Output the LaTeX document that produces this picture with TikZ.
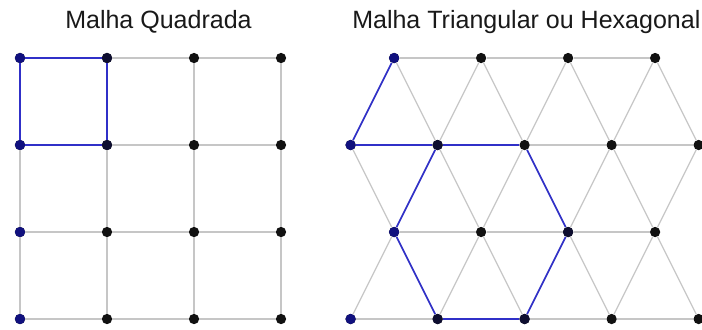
\documentclass[tikz,border=0pt]{standalone}
\usepackage{fontspec}
\setmainfont{Liberation Sans}
\usepackage{xcolor}
\definecolor{malhaGray}{HTML}{C6C6C6}
\definecolor{malhaBlue}{HTML}{3030C8}
\definecolor{malhaNavy}{HTML}{10107E}
\definecolor{malhaDark}{HTML}{0E0E30}
\definecolor{malhaBlack}{HTML}{111111}

\begin{document}
\begin{tikzpicture}[x=2.2cm, y=2.2cm,
    dot/.style={circle, fill=malhaBlack, inner sep=0pt, minimum size=2.6mm},
    bluedot/.style={dot, fill=malhaNavy},
    darkdot/.style={dot, fill=malhaDark},
    grid line/.style={malhaGray, line width=0.9pt},
    path line/.style={malhaBlue, line width=1.2pt},
    title/.style={anchor=base west, inner sep=0pt, font=\fontsize{18}{20}\selectfont, text=black!90}]
    \useasboundingbox (-0.230,-0.115) rectangle (7.839,3.667);
    \node[title] (tq) at (0.517,3.345) {Malha Quadrada};
    \node[title] (tt) at (3.816,3.345) {Malha Triangular ou Hexagonal};
    % square lattice
    \foreach \i in {0,...,3}
      \foreach \j in {0,...,3}
        \node[dot] (q-\i-\j) at (\i,\j) {};
    \foreach \j in {0,...,3} \node[bluedot] at (q-0-\j) {};
    \node[darkdot] at (q-1-2) {};
    \node[darkdot] at (q-1-3) {};
    \foreach \i in {0,...,2}
      \foreach \j in {0,...,3} {
        \pgfmathtruncatemacro{\ii}{\i+1}
        \draw[grid line] (q-\i-\j) -- (q-\ii-\j);
        \draw[grid line] (q-\j-\i) -- (q-\j-\ii);
      }
    \draw[path line] (q-0-3) -- (q-1-3) -- (q-1-2) -- (q-0-2) -- (q-0-3);
    % triangular lattice
    \foreach \r in {0,2}
      \foreach \k in {0,...,4}
        \node[dot] (t-\r-\k) at (3.8+\k,\r) {};
    \foreach \r in {1,3}
      \foreach \k in {0,...,3}
        \node[dot] (t-\r-\k) at (4.3+\k,\r) {};
    \foreach \r in {0,...,3} \node[bluedot] at (t-\r-0) {};
    \foreach \p in {2-1,1-2,0-1,0-2} \node[darkdot] at (t-\p) {};
    \foreach \r/\m in {0/3,1/2,2/3,3/2}
      \foreach \k in {0,...,\m} {
        \pgfmathtruncatemacro{\kk}{\k+1}
        \draw[grid line] (t-\r-\k) -- (t-\r-\kk);
      }
    \foreach \rodd/\reven in {1/0,1/2,3/2}
      \foreach \k in {0,...,3} {
        \pgfmathtruncatemacro{\kk}{\k+1}
        \draw[grid line] (t-\rodd-\k) -- (t-\reven-\k);
        \draw[grid line] (t-\rodd-\k) -- (t-\reven-\kk);
      }
    \draw[path line] (t-3-0) -- (t-2-0) -- (t-2-1) -- cycle;
    \draw[path line] (t-2-1) -- (t-2-2) -- (t-1-2) -- (t-0-2) -- (t-0-1) -- (t-1-0) -- (t-2-1);
\end{tikzpicture}
\end{document}
